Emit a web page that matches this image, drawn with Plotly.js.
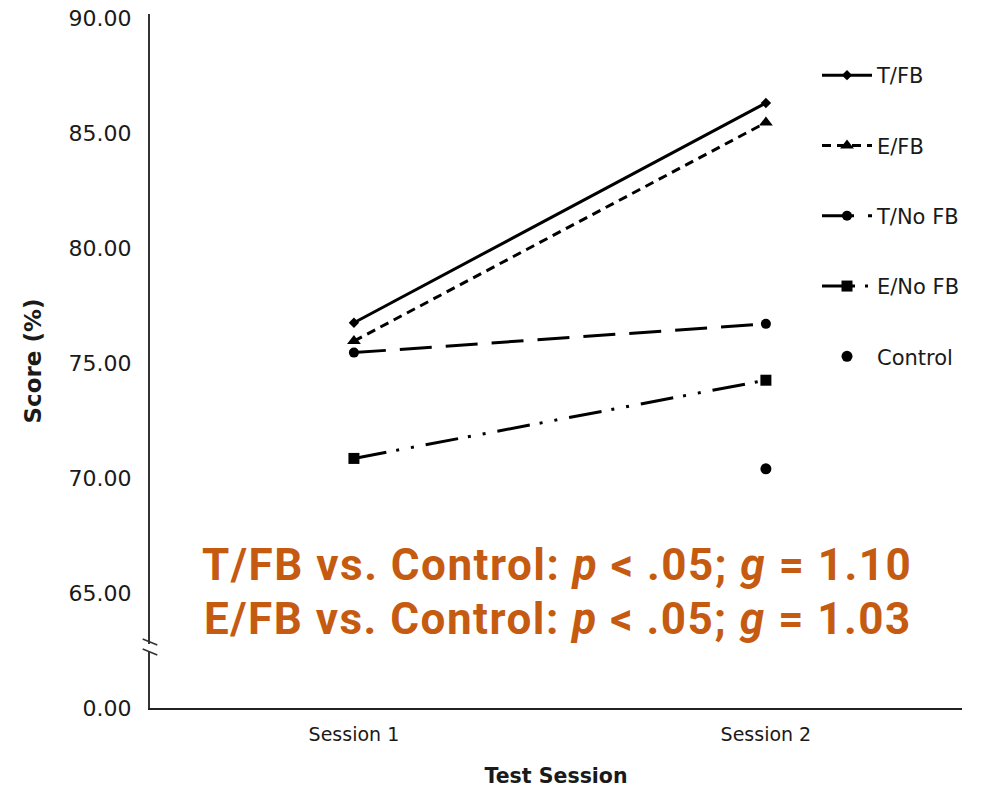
<!DOCTYPE html>
<html>
<head>
<meta charset="utf-8">
<script src="https://cdn.plot.ly/plotly-3.0.1.min.js"></script>
<style>
html,body{margin:0;padding:0;background:#fff;}
#chart{width:990px;height:789px;}
.annotation-text{letter-spacing:1.5px;}
</style>
</head>
<body>
<div id="chart"></div>
<script>
// Data
const sessions = ["Session 1", "Session 2"];
const sessionX = [0, 1];
const tFB = [76.75, 86.3];
const eFB = [75.95, 85.45];
const tNoFB = [75.45, 76.7];
const eNoFB = [70.85, 74.25];
const controlX = [1];
const control = [70.4];
// y-axis tick labels (axis is broken: bottom tick "0.00" sits at the 60 position)
const yTickVals = [60, 65, 70, 75, 80, 85, 90];
const yTickText = ["0.00", "65.00", "70.00", "75.00", "80.00", "85.00", "90.00"];
const statLines = [
  "<b>T/FB vs. Control: <i>p</i> &lt; .05; <i>g</i> = 1.10</b>",
  "<b>E/FB vs. Control: <i>p</i> &lt; .05; <i>g</i> = 1.03</b>"
];

const black = "#000000";
const traces = [
  {x: sessionX, y: tFB, name: "T/FB", legendgroup: "a", mode: "lines+markers",
   line: {color: black, width: 3, dash: "solid"},
   marker: {symbol: "diamond", size: 8, color: black}},
  {x: sessionX, y: eFB, name: "E/FB", legendgroup: "b", mode: "lines+markers",
   line: {color: black, width: 3, dash: "9px,6px"},
   marker: {symbol: "triangle-up", size: 12, color: black}},
  {x: sessionX, y: tNoFB, name: "T/No FB", legendgroup: "c", mode: "lines+markers",
   line: {color: black, width: 3, dash: "32px,14px"},
   marker: {symbol: "circle", size: 10, color: black}},
  {x: sessionX, y: eNoFB, name: "E/No FB", legendgroup: "d", mode: "lines+markers",
   line: {color: black, width: 3, dash: "33px,10px,3px,12px,3px,12px"},
   marker: {symbol: "square", size: 11, color: black}},
  {x: controlX, y: control, name: "Control", legendgroup: "e", mode: "markers",
   marker: {symbol: "circle", size: 11, color: black}}
];

const H = 694; // plot height px
function py(p) { return (708 - p) / H; }
function px(p) { return (p - 150) / 812; }

const layout = {
  width: 990, height: 789,
  margin: {l: 150, r: 28, t: 14, b: 81},
  paper_bgcolor: "#fff", plot_bgcolor: "#fff",
  font: {family: "DejaVu Sans", color: "#1a1a1a"},
  showlegend: true,
  legend: {x: px(817), y: py(55), xanchor: "left", yanchor: "top",
           font: {family: "DejaVu Sans", size: 21, color: "#1a1a1a"},
           itemwidth: 50,
           tracegroupgap: 40, traceorder: "grouped", bgcolor: "rgba(0,0,0,0)"},
  xaxis: {
    range: [-0.495, 1.476], tickvals: sessionX, ticktext: sessions,
    showgrid: false, zeroline: false, showline: true, linecolor: "#222", linewidth: 2,
    ticks: "", ticklabelstandoff: 8,
    tickfont: {family: "DejaVu Sans", size: 19, color: "#1a1a1a"},
    title: {text: "<b>Test Session</b>", font: {family: "DejaVu Sans", size: 20.5, color: "#1a1a1a"}, standoff: 25}
  },
  yaxis: {
    range: [60, 90.17], tickvals: yTickVals, ticktext: yTickText,
    showgrid: false, zeroline: false, showline: true, linecolor: "#333", linewidth: 2,
    ticks: "", ticklabelstandoff: 12,
    tickfont: {family: "DejaVu Sans", size: 22, color: "#1a1a1a"},
    title: {text: "<b>Score (%)</b>", font: {family: "DejaVu Sans", size: 23, color: "#1a1a1a"}, standoff: 21}
  },
  shapes: [
    {type: "rect", xref: "paper", yref: "paper", x0: -0.006, x1: 0.006, y0: py(651), y1: py(644),
     fillcolor: "#fff", line: {width: 0}, layer: "above"},
    {type: "line", xref: "paper", yref: "paper", x0: -0.009, x1: 0.009, y0: py(639), y1: py(645),
     line: {color: "#333", width: 1.5}, layer: "above"},
    {type: "line", xref: "paper", yref: "paper", x0: -0.009, x1: 0.009, y0: py(649), y1: py(655),
     line: {color: "#333", width: 1.5}, layer: "above"}
  ],
  annotations: [
    {xref: "paper", yref: "paper", x: px(914), y: py(565), xanchor: "right", yanchor: "middle",
     align: "right", showarrow: false, text: statLines[0],
     font: {family: "Roboto", size: 44, color: "#C55A11"}},
    {xref: "paper", yref: "paper", x: px(914), y: py(619), xanchor: "right", yanchor: "middle",
     align: "right", showarrow: false, text: statLines[1],
     font: {family: "Roboto", size: 44, color: "#C55A11"}}
  ]
};

Plotly.newPlot("chart", traces, layout, {displayModeBar: false, staticPlot: true});
</script>
</body>
</html>
